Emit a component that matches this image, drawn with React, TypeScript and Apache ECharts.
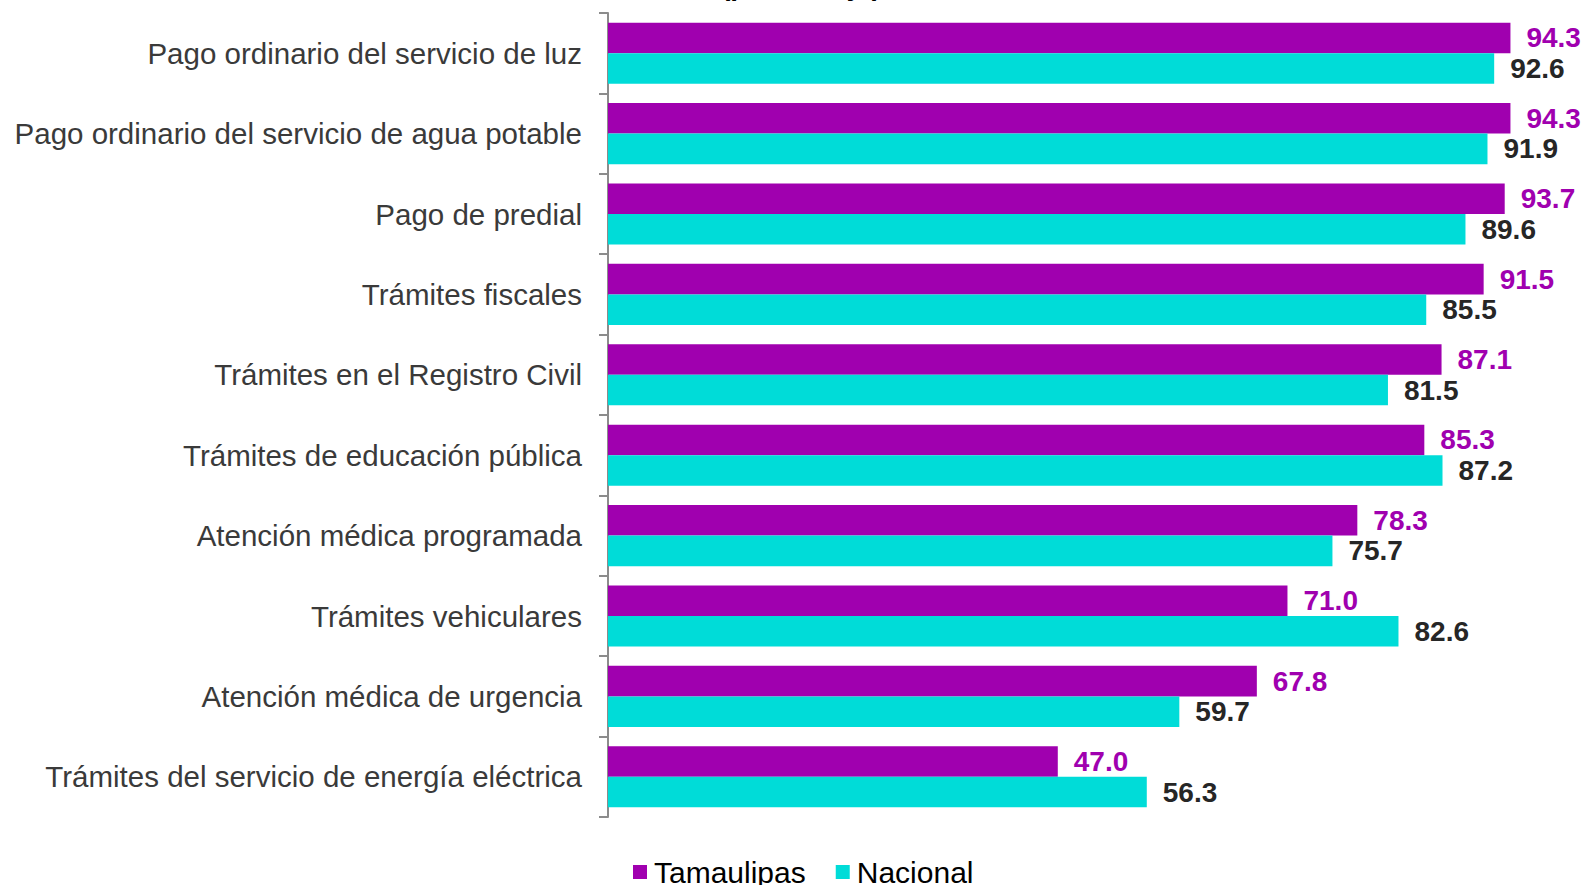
import React, { useEffect, useRef } from "react";
import * as echarts from "echarts";

const categories = [
  "Pago ordinario del servicio de luz",
  "Pago ordinario del servicio de agua potable",
  "Pago de predial",
  "Trámites fiscales",
  "Trámites en el Registro Civil",
  "Trámites de educación pública",
  "Atención médica programada",
  "Trámites vehiculares",
  "Atención médica de urgencia",
  "Trámites del servicio de energía eléctrica",
];
const tamaulipas = [94.3, 94.3, 93.7, 91.5, 87.1, 85.3, 78.3, 71.0, 67.8, 47.0];
const nacional = [92.6, 91.9, 89.6, 85.5, 81.5, 87.2, 75.7, 82.6, 59.7, 56.3];
const seriesNames = ["Tamaulipas", "Nacional"];
const titleText = "(porcentaje)";

const FONT = "'Liberation Sans', Arial, sans-serif";
const PURPLE = "#A000AF";
const CYAN = "#00DCD8";

export default function App() {
  const ref = useRef<HTMLDivElement>(null);
  useEffect(() => {
    if (!ref.current) return;
    const chart = echarts.init(ref.current, undefined, { renderer: "svg" });
    chart.setOption({
      animation: false,
      backgroundColor: "#ffffff",
      textStyle: { fontFamily: FONT },
      graphic: [
        {
          type: "text",
          x: 801,
          y: -1,
          style: {
            text: titleText,
            font: `bold 28px ${FONT}`,
            fill: "#000000",
            align: "center",
            verticalAlign: "bottom",
          },
        },
      ],
      legend: {
        data: seriesNames,
        left: 628,
        top: 852,
        itemWidth: 14,
        itemHeight: 14,
        itemGap: 30,
        icon: "rect",
        textStyle: {
          fontFamily: FONT,
          fontSize: 30,
          color: "#000000",
          padding: [0, 0, 0, 2],
        },
      },
      grid: {
        left: 608,
        top: 13,
        right: 20,
        bottom: 68,
        containLabel: false,
      },
      xAxis: {
        type: "value",
        min: 0,
        max: 100,
        show: false,
      },
      yAxis: {
        type: "category",
        data: categories,
        inverse: true,
        axisLine: { show: true, lineStyle: { color: "#8c8c8c", width: 2 } },
        axisTick: { show: true, length: 9, lineStyle: { color: "#8c8c8c", width: 2 } },
        axisLabel: {
          fontFamily: FONT,
          fontSize: 29.5,
          color: "#3a3a3a",
          margin: 26,
        },
        splitLine: { show: false },
      },
      series: [
        {
          name: seriesNames[0],
          type: "bar",
          data: tamaulipas,
          barGap: "0%",
          barCategoryGap: "24%",
          itemStyle: { color: PURPLE },
          label: {
            show: true,
            position: "right",
            distance: 16,
            formatter: (p: any) => Number(p.value).toFixed(1),
            fontFamily: FONT,
            fontSize: 28,
            fontWeight: "bold",
            color: PURPLE,
          },
        },
        {
          name: seriesNames[1],
          type: "bar",
          data: nacional,
          barGap: "0%",
          barCategoryGap: "24%",
          itemStyle: { color: CYAN },
          label: {
            show: true,
            position: "right",
            distance: 16,
            formatter: (p: any) => Number(p.value).toFixed(1),
            fontFamily: FONT,
            fontSize: 28,
            fontWeight: "bold",
            color: "#262626",
          },
        },
      ],
    });
    return () => chart.dispose();
  }, []);
  return (
    <div
      ref={ref}
      style={{ position: "absolute", left: 0, top: 0, width: 1585, height: 885 }}
    />
  );
}
